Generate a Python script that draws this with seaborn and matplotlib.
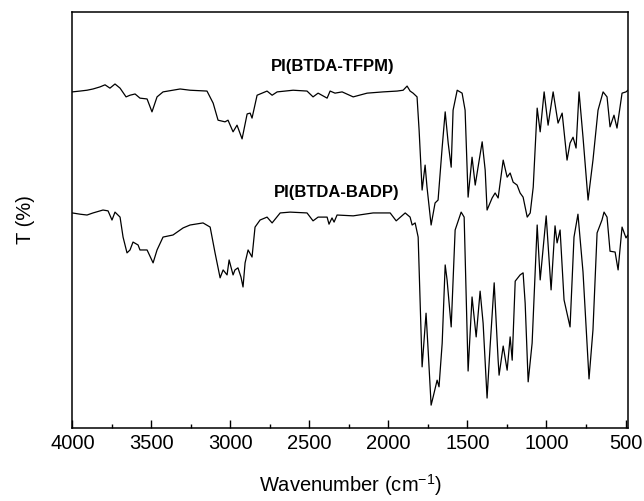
import matplotlib
matplotlib.use('Agg')
import matplotlib.pyplot as plt
import seaborn as sns
import pandas as pd
import numpy as np
from matplotlib.ticker import MultipleLocator

# FTIR spectra (wavenumber in cm-1, T in arbitrary %-units)
wn_tfpm = [4000, 3951, 3907, 3869, 3825, 3793, 3762, 3730, 3698, 3660, 3635, 3603, 3572,
           3527, 3496, 3464, 3426, 3318, 3255, 3148, 3109, 3078, 3034, 3015, 2983, 2958,
           2926, 2894, 2875, 2863, 2831, 2768, 2736, 2704, 2603, 2515, 2477, 2445, 2388,
           2369, 2338, 2293, 2223, 2135, 2034, 1945, 1907, 1882, 1863, 1844, 1819, 1806,
           1787, 1768, 1756, 1730, 1705, 1686, 1660, 1641, 1622, 1603, 1591, 1565, 1534,
           1515, 1496, 1471, 1451, 1433, 1407, 1388, 1376, 1344, 1325, 1306, 1274, 1249,
           1230, 1211, 1186, 1167, 1148, 1122, 1103, 1084, 1059, 1040, 1015, 990, 958,
           927, 901, 870, 851, 832, 813, 794, 769, 737, 706, 674, 642, 617, 598, 573, 554,
           522, 497, 485]
t_tfpm = [80.8, 81.0, 81.2, 81.5, 82.0, 82.5, 81.7, 82.7, 81.7, 79.6, 80.0, 80.3, 79.3,
          79.1, 76.0, 79.6, 80.8, 81.5, 81.2, 81.0, 78.1, 74.0, 73.6, 74.0, 71.2, 72.8,
          69.5, 75.5, 75.7, 74.5, 80.0, 81.0, 80.0, 80.8, 81.2, 81.0, 79.6, 80.5, 79.3,
          81.0, 80.5, 80.8, 79.6, 80.5, 80.8, 81.0, 81.2, 82.2, 81.0, 80.5, 79.6, 71.6,
          57.2, 63.2, 57.9, 48.8, 54.1, 54.8, 67.5, 76.0, 68.5, 62.7, 76.4, 81.2, 80.5,
          76.4, 55.5, 65.1, 58.4, 62.7, 68.8, 62.0, 52.4, 55.3, 56.5, 55.3, 64.4, 60.3,
          61.3, 59.1, 58.4, 56.5, 55.5, 50.7, 51.7, 57.9, 76.9, 71.2, 80.8, 72.8, 80.8,
          73.3, 75.7, 64.4, 68.5, 69.9, 67.3, 80.8, 69.9, 54.8, 64.4, 76.4, 80.8, 79.6,
          72.4, 75.2, 72.1, 80.5, 80.8, 81.2]

wn_badp = [4000, 3951, 3907, 3869, 3806, 3774, 3749, 3730, 3698, 3679, 3654, 3635, 3616,
           3584, 3572, 3527, 3489, 3464, 3426, 3363, 3299, 3255, 3173, 3128, 3097, 3065,
           3046, 3021, 3008, 2983, 2971, 2952, 2933, 2920, 2907, 2888, 2863, 2844, 2812,
           2768, 2736, 2685, 2622, 2515, 2477, 2445, 2388, 2376, 2357, 2344, 2325, 2223,
           2097, 1989, 1951, 1894, 1863, 1850, 1831, 1812, 1787, 1762, 1749, 1730, 1717,
           1692, 1680, 1660, 1641, 1629, 1603, 1578, 1540, 1521, 1496, 1471, 1445, 1420,
           1401, 1376, 1357, 1331, 1306, 1300, 1274, 1249, 1230, 1217, 1198, 1167, 1148,
           1135, 1116, 1091, 1059, 1040, 1002, 971, 946, 933, 914, 889, 851, 826, 801,
           769, 731, 706, 680, 649, 636, 617, 598, 566, 547, 522, 497, 485]
t_badp = [51.7, 51.4, 51.2, 51.7, 52.4, 52.2, 50.0, 51.9, 50.7, 45.9, 42.1, 42.8, 44.7,
          44.0, 42.8, 42.8, 39.7, 42.8, 45.9, 46.4, 48.1, 48.8, 49.3, 48.3, 42.1, 36.1,
          38.0, 36.8, 40.4, 36.8, 38.0, 38.5, 36.3, 33.9, 39.7, 42.8, 41.1, 48.3, 50.0,
          50.7, 49.3, 51.7, 51.9, 51.7, 49.8, 50.7, 50.7, 49.0, 50.5, 49.5, 51.2, 51.0,
          51.7, 51.7, 49.8, 51.7, 50.7, 48.8, 49.3, 45.9, 14.7, 27.6, 18.8, 5.5, 7.5,
          11.5, 9.9, 20.4, 39.2, 35.6, 24.3, 47.6, 51.9, 50.7, 13.7, 31.5, 21.9, 32.9,
          25.2, 7.2, 19.5, 34.9, 16.3, 12.7, 19.7, 13.9, 21.9, 16.3, 35.3, 36.8, 37.3,
          30.0, 11.1, 20.4, 48.8, 35.6, 51.0, 33.2, 48.6, 44.5, 47.6, 30.8, 24.3, 45.9,
          51.4, 37.5, 11.8, 23.6, 46.9, 50.0, 51.9, 50.7, 42.5, 42.3, 38.0, 48.3, 45.7,
          46.4]

names = ['PI(BTDA-TFPM)', 'PI(BTDA-BADP)']

df = pd.concat([
    pd.DataFrame({'wn': wn_tfpm, 'T': t_tfpm, 'sample': names[0]}),
    pd.DataFrame({'wn': wn_badp, 'T': t_badp, 'sample': names[1]}),
])

sns.set_style('ticks')
plt.rcParams['font.family'] = ['Liberation Sans', 'DejaVu Sans']
plt.rcParams['mathtext.fontset'] = 'custom'
plt.rcParams['mathtext.rm'] = 'Liberation Sans'
plt.rcParams['mathtext.it'] = 'Liberation Sans'
plt.rcParams['text.color'] = 'black'
plt.rcParams['axes.labelcolor'] = 'black'
plt.rcParams['xtick.color'] = 'black'

fig = plt.figure(figsize=(6.44, 5.01), dpi=100)
ax = fig.add_axes([0.1123, 0.1457, 0.8627, 0.8303])

sns.lineplot(data=df, x='wn', y='T', hue='sample', units='sample', estimator=None,
             palette=['black', 'black'], linewidth=0.9, legend=False, ax=ax)

ax.set_xlim(4000, 485)
ax.set_ylim(0, 100)
ax.xaxis.set_major_locator(MultipleLocator(500))
ax.xaxis.set_minor_locator(MultipleLocator(250))
ax.set_yticks([])
ax.tick_params(axis='x', which='major', direction='in', length=5.8, width=1.0,
               labelsize=14.5, pad=4, top=False, colors='black')
ax.tick_params(axis='x', which='minor', direction='in', length=3, width=1.0, top=False)
for s in ax.spines.values():
    s.set_linewidth(1.1)
    s.set_color('black')

ax.set_xlabel('Wavenumber (cm$^{-1}$)', fontsize=14.5, labelpad=14)
ax.set_ylabel('T (%)', fontsize=14.5, labelpad=27)

ax.text(2350, 87.0, names[0], fontsize=12, fontweight='bold', ha='center', va='center')
ax.text(2325, 56.5, names[1], fontsize=12, fontweight='bold', ha='center', va='center')

fig.savefig('out.png', dpi=100)
